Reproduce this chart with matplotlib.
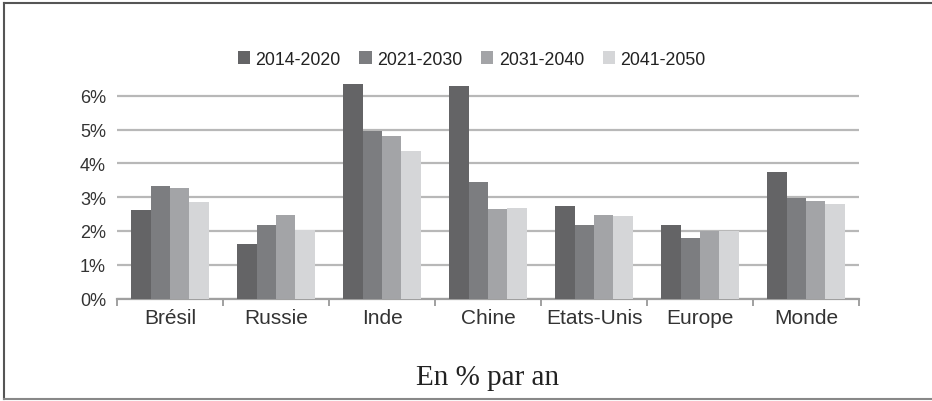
import numpy as np
import matplotlib.pyplot as plt
from matplotlib.lines import Line2D

# growth per year, %
categories = ["Brésil", "Russie", "Inde", "Chine", "Etats-Unis", "Europe", "Monde"]
periods = ["2014-2020", "2021-2030", "2031-2040", "2041-2050"]
v_2014_2020 = [2.62, 1.62, 6.34, 6.29, 2.75, 2.18, 3.76]
v_2021_2030 = [3.32, 2.18, 4.95, 3.46, 2.18, 1.80, 2.99]
v_2031_2040 = [3.27, 2.46, 4.80, 2.64, 2.48, 2.01, 2.88]
v_2041_2050 = [2.85, 2.02, 4.36, 2.68, 2.44, 2.01, 2.81]
yticks = [0, 1, 2, 3, 4, 5, 6]

series = [v_2014_2020, v_2021_2030, v_2031_2040, v_2041_2050]
colors = ["#646466", "#7c7d80", "#a3a4a7", "#d5d6d8"]

plt.rcParams['font.family'] = ['Liberation Sans', 'DejaVu Sans']

fig = plt.figure(figsize=(9.32, 4.02), dpi=100)
ax = fig.add_axes([117/932, 1 - 299.5/402, (859 - 117)/932, (299.5 - 76.7)/402])

x = np.arange(len(categories))
w = 0.183
for i, (vals, c) in enumerate(zip(series, colors)):
    ax.bar(x + (i - 1.5) * w, vals, width=w, color=c, label=periods[i], zorder=3)

ax.set_xlim(-0.5, len(categories) - 0.5)
ax.set_ylim(0, 6.6)
ax.set_yticks(yticks)
ax.set_yticklabels([f"{t}%" for t in yticks], fontsize=13, color="#333333")
ax.tick_params(axis="y", length=0, pad=8)
ax.yaxis.grid(True, color="#b8b8b8", linewidth=1.6, zorder=0)
ax.set_axisbelow(True)

# category boundaries as ticks, names as minor ticks
ax.set_xticks(np.arange(len(categories) + 1) - 0.5)
ax.set_xticklabels([])
ax.tick_params(axis="x", which="major", length=5, width=1.4, color="#a0a0a0", direction="out")
ax.set_xticks(x, minor=True)
ax.set_xticklabels(categories, minor=True, fontsize=15, color="#333333")
ax.tick_params(axis="x", which="minor", length=0, pad=7)

for s in ["top", "right", "left"]:
    ax.spines[s].set_visible(False)
ax.spines["bottom"].set_color("#a0a0a0")
ax.spines["bottom"].set_linewidth(1.6)

fig.legend(loc="center", bbox_to_anchor=(0.506, 1 - 60/402), ncol=4, frameon=False,
           fontsize=12.8, handlelength=0.7, handleheight=0.7, handletextpad=0.3,
           columnspacing=1.05, labelcolor="#222222")

fig.text(488/932, 1 - 378/402, "En % par an", family="Liberation Serif",
         fontsize=21, ha="center", va="center", color="#222222")

# frame around the figure (no right side)
fc = "#555555"
fig.add_artist(Line2D([4/932, 4/932], [1 - 4/402, 1 - 400/402], color=fc, lw=1.5))
fig.add_artist(Line2D([4/932, 1], [1 - 4/402, 1 - 4/402], color=fc, lw=1.5))
fig.add_artist(Line2D([4/932, 1], [1 - 400/402, 1 - 400/402], color="#888888", lw=1.5))

fig.savefig("out.png", dpi=100)
